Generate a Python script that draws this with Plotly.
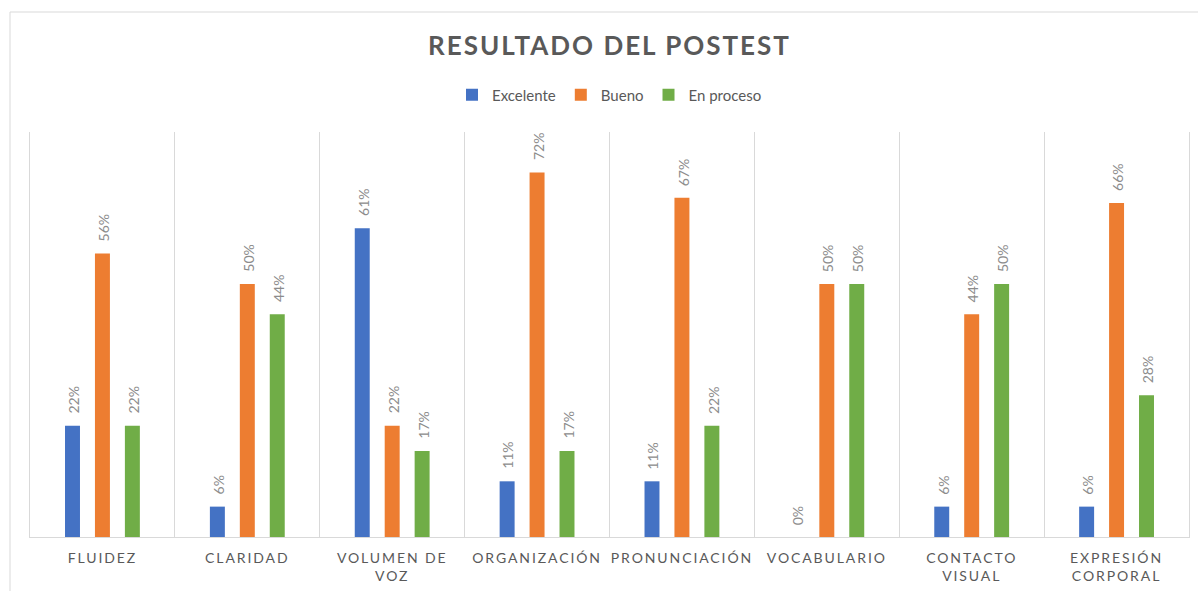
import plotly.graph_objects as go

categories = ["FLUIDEZ", "CLARIDAD", "VOLUMEN DE<br>VOZ", "ORGANIZACIÓN", "PRONUNCIACIÓN",
              "VOCABULARIO", "CONTACTO<br>VISUAL", "EXPRESIÓN<br>CORPORAL"]
excelente = [22, 6, 61, 11, 11, 0, 6, 6]
bueno = [56, 50, 22, 72, 67, 50, 44, 66]
en_proceso = [22, 44, 17, 17, 22, 50, 50, 28]

series = [("Excelente", excelente, "#4472C4"),
          ("Bueno", bueno, "#ED7D31"),
          ("En proceso", en_proceso, "#70AD47")]
label_xshift = [-30, 0, 30]

fig = go.Figure()
annotations = []
for k, (name, vals, color) in enumerate(series):
    fig.add_trace(go.Bar(
        x=categories, y=vals, name=name,
        marker=dict(color=color, line=dict(width=0)),
        hoverinfo="skip",
    ))
    for cat, v in zip(categories, vals):
        annotations.append(dict(
            x=cat, y=v, xref="x", yref="y", text=f"{v}%", showarrow=False,
            textangle=-90, xanchor="center", yanchor="bottom",
            xshift=label_xshift[k] + 1, yshift=10,
            font=dict(family="Lato", size=14, color="#8c8c8c"),
        ))

fig.update_layout(
    width=1198, height=591,
    margin=dict(l=30, r=9, t=132, b=54, autoexpand=False),
    paper_bgcolor="white", plot_bgcolor="white",
    barmode="group", bargap=0.38, bargroupgap=0.5,
    title=dict(text="<b>RESULTADO DEL POSTEST</b>", x=0.5, xref="paper",
               y=1 - 46 / 591, yref="container", yanchor="middle", xanchor="center",
               font=dict(family="Lato", size=26, color="#595959")),
    legend=dict(orientation="h", x=0.5, xanchor="center", y=(537 - 95) / 405,
                yanchor="middle", font=dict(family="Lato", size=15, color="#595959"),
                itemwidth=30, traceorder="normal"),
    showlegend=True,
    annotations=annotations,
    font=dict(family="Lato", color="#595959"),
    shapes=[dict(type="rect", xref="paper", yref="paper",
                 x0=-20 / 1159, x1=1.05, y0=-0.3, y1=(537 - 12) / 405,
                 line=dict(color="#d9d9d9", width=1), fillcolor="rgba(0,0,0,0)", layer="below")],
)
fig.update_xaxes(type="category", tickson="boundaries", showgrid=True, gridcolor="#d9d9d9",
                 gridwidth=1, showline=True, linecolor="#d9d9d9", linewidth=1,
                 ticks="", ticklabelstandoff=8, automargin=False,
                 tickfont=dict(family="Lato", size=14, color="#595959"))
fig.update_yaxes(range=[0, 80], showticklabels=False, showgrid=False, zeroline=False,
                 showline=True, mirror=True, linecolor="#d9d9d9", linewidth=1, ticks="",
                 automargin=False)

post = """
document.body.style.margin = '0';
var gd = document.getElementById('{plot_id}');
function ls(){
  document.querySelectorAll('.xtick text').forEach(function(t){t.style.letterSpacing='1.9px';});
  document.querySelectorAll('.gtitle').forEach(function(t){t.style.letterSpacing='2px';});
}
ls();
gd.on('plotly_afterplot', ls);
"""
fig.write_html("out.html", post_script=post, config={"displayModeBar": False})
